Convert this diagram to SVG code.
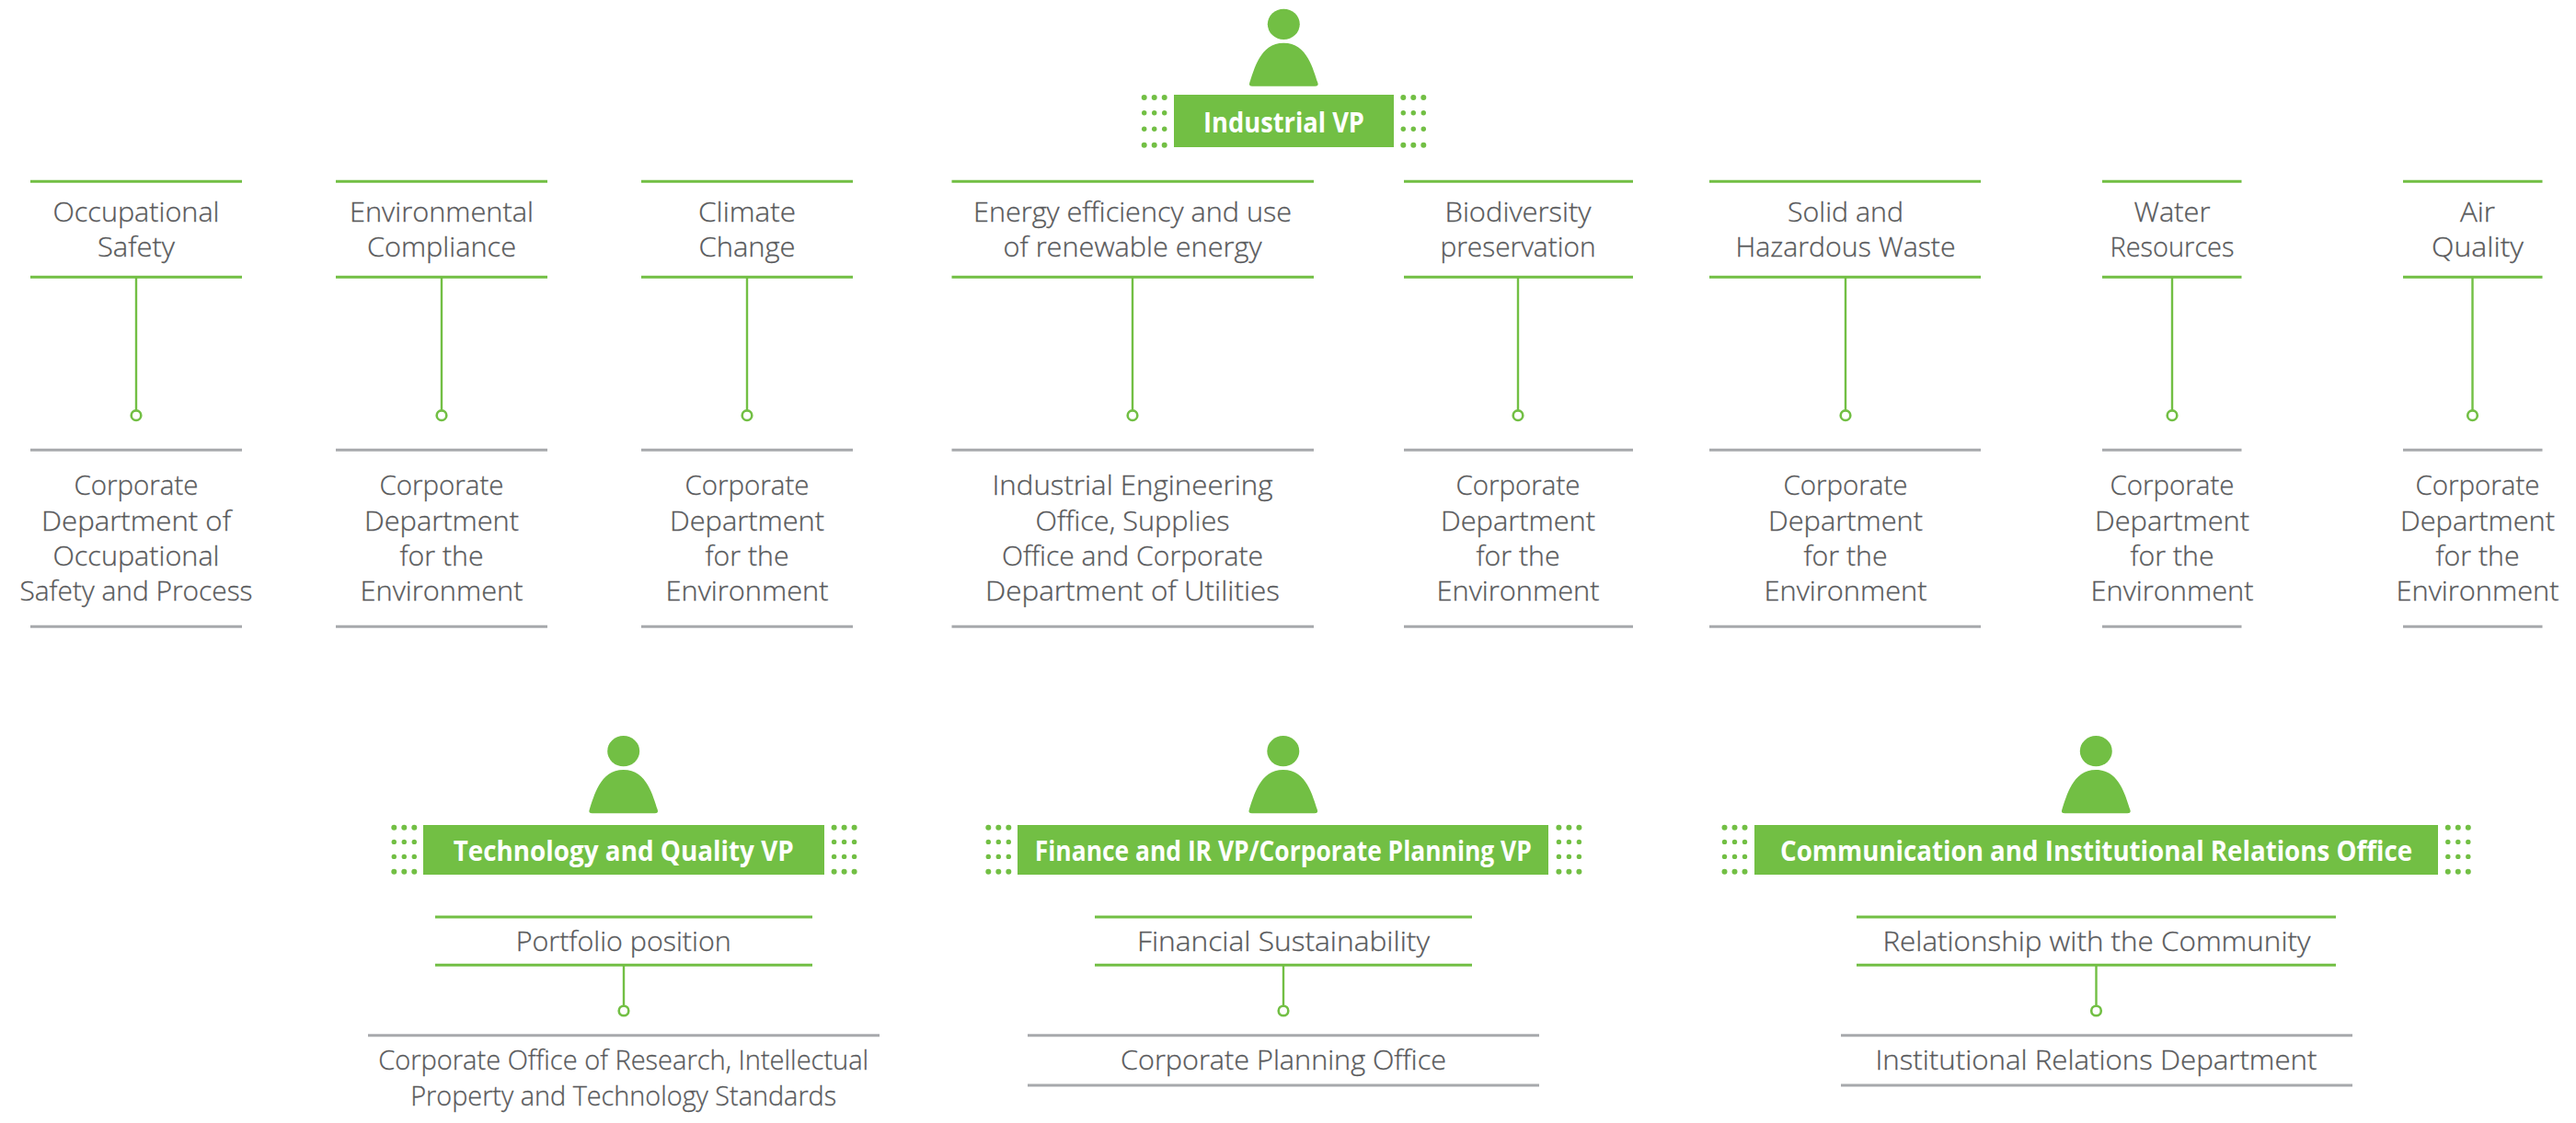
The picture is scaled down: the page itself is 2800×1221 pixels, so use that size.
<svg xmlns="http://www.w3.org/2000/svg" width="2800" height="1221" viewBox="0 0 2800 1221">
<style>
text{font-family:"Open Sans","Liberation Sans",sans-serif;text-anchor:middle}
.t{font-size:30px;font-weight:300;fill:#58595b;stroke:#58595b;stroke-width:.3px}
.h{font-size:30px;font-weight:700;fill:#fff}
.g{stroke:#72bf44;stroke-width:3;fill:none}
.n{stroke:#a7a9ac;stroke-width:3;fill:none}
.c{stroke:#72bf44;stroke-width:2.4;fill:none}
.o{stroke:#72bf44;stroke-width:2.6;fill:#fff}
.f{fill:#72bf44}
</style>
<defs>
<g id="person" class="f"><ellipse cx="0" cy="0" rx="17.5" ry="16.6"/><path d="M-34,67.5Q-38.5,67.5 -37,63.5C-32,50 -26,20.4 0,20.4C26,20.4 32,50 37,63.5Q38.5,67.5 34,67.5Z"/></g>
<g id="dotsA" class="f"><circle cx="0" cy="0" r="3"/><circle cx="11" cy="0" r="3"/><circle cx="22" cy="0" r="3"/><circle cx="0" cy="16.7" r="2.7"/><circle cx="11" cy="16.7" r="2.7"/><circle cx="22" cy="16.7" r="2.7"/><circle cx="0" cy="34.3" r="2.7"/><circle cx="11" cy="34.3" r="2.7"/><circle cx="22" cy="34.3" r="2.7"/><circle cx="0" cy="51.7" r="3"/><circle cx="11" cy="51.7" r="3"/><circle cx="22" cy="51.7" r="3"/></g>
<g id="dotsB" class="f"><circle cx="0" cy="0" r="3"/><circle cx="11" cy="0" r="3"/><circle cx="22" cy="0" r="3"/><circle cx="0" cy="15.7" r="2.7"/><circle cx="11" cy="15.7" r="2.7"/><circle cx="22" cy="15.7" r="2.7"/><circle cx="0" cy="31.7" r="2.7"/><circle cx="11" cy="31.7" r="2.7"/><circle cx="22" cy="31.7" r="2.7"/><circle cx="0" cy="48" r="3"/><circle cx="11" cy="48" r="3"/><circle cx="22" cy="48" r="3"/></g>
</defs>
<rect width="2800" height="1221" fill="#fff"/>
<g id="connectors">
<path class="c" d="M148,301V446M480,301V446M812,301V446M1231,301V446M1650,301V446M2006,301V446M2361,301V446M2687.5,301V446M678,1049V1093M1395,1049V1093M2278.5,1049V1093"/>
<g class="o"><circle cx="148" cy="451.7" r="5.3"/><circle cx="480" cy="451.7" r="5.3"/><circle cx="812" cy="451.7" r="5.3"/><circle cx="1231" cy="451.7" r="5.3"/><circle cx="1650" cy="451.7" r="5.3"/><circle cx="2006" cy="451.7" r="5.3"/><circle cx="2361" cy="451.7" r="5.3"/><circle cx="2687.5" cy="451.7" r="5.3"/><circle cx="678" cy="1099" r="5.3"/><circle cx="1395" cy="1099" r="5.3"/><circle cx="2278.5" cy="1099" r="5.3"/></g>
</g>
<g id="vp-industrial"><use href="#person" x="1395.3" y="26.3"/><use href="#dotsA" x="1243.7" y="106"/><use href="#dotsA" x="1525.3" y="106"/><rect class="f" x="1276" y="103" width="239" height="57"/><text class="h" x="1395.5" y="144" textLength="175" lengthAdjust="spacingAndGlyphs">Industrial VP</text></g>
<g id="topic-occupational"><path class="g" d="M33,197.3H263M33,301.3H263"/><text class="t" x="148" y="240.7" textLength="181" lengthAdjust="spacingAndGlyphs">Occupational</text><text class="t" x="148" y="279" textLength="84" lengthAdjust="spacingAndGlyphs">Safety</text></g>
<g id="owner-occupational"><path class="n" d="M33,489.3H263M33,681.3H263"/><text class="t" x="148" y="538" textLength="135" lengthAdjust="spacingAndGlyphs">Corporate</text><text class="t" x="148" y="576.5" textLength="206" lengthAdjust="spacingAndGlyphs">Department of</text><text class="t" x="148" y="615" textLength="181" lengthAdjust="spacingAndGlyphs">Occupational</text><text class="t" x="148" y="653" textLength="253" lengthAdjust="spacingAndGlyphs">Safety and Process</text></g>
<g id="topic-environmental"><path class="g" d="M365,197.3H595M365,301.3H595"/><text class="t" x="480" y="240.7" textLength="200" lengthAdjust="spacingAndGlyphs">Environmental</text><text class="t" x="480" y="279" textLength="162" lengthAdjust="spacingAndGlyphs">Compliance</text></g>
<g id="owner-environmental"><path class="n" d="M365,489.3H595M365,681.3H595"/><text class="t" x="480" y="538" textLength="135" lengthAdjust="spacingAndGlyphs">Corporate</text><text class="t" x="480" y="576.5" textLength="168" lengthAdjust="spacingAndGlyphs">Department</text><text class="t" x="480" y="615" textLength="91" lengthAdjust="spacingAndGlyphs">for the</text><text class="t" x="480" y="653" textLength="177" lengthAdjust="spacingAndGlyphs">Environment</text></g>
<g id="topic-climate"><path class="g" d="M697,197.3H927M697,301.3H927"/><text class="t" x="812" y="240.7" textLength="106" lengthAdjust="spacingAndGlyphs">Climate</text><text class="t" x="812" y="279" textLength="105" lengthAdjust="spacingAndGlyphs">Change</text></g>
<g id="owner-climate"><path class="n" d="M697,489.3H927M697,681.3H927"/><text class="t" x="812" y="538" textLength="135" lengthAdjust="spacingAndGlyphs">Corporate</text><text class="t" x="812" y="576.5" textLength="168" lengthAdjust="spacingAndGlyphs">Department</text><text class="t" x="812" y="615" textLength="91" lengthAdjust="spacingAndGlyphs">for the</text><text class="t" x="812" y="653" textLength="177" lengthAdjust="spacingAndGlyphs">Environment</text></g>
<g id="topic-energy"><path class="g" d="M1034.5,197.3H1428M1034.5,301.3H1428"/><text class="t" x="1231" y="240.7" textLength="346" lengthAdjust="spacingAndGlyphs">Energy efficiency and use</text><text class="t" x="1231" y="279" textLength="281" lengthAdjust="spacingAndGlyphs">of renewable energy</text></g>
<g id="owner-energy"><path class="n" d="M1034.5,489.3H1428M1034.5,681.3H1428"/><text class="t" x="1231" y="538" textLength="305" lengthAdjust="spacingAndGlyphs">Industrial Engineering</text><text class="t" x="1231" y="576.5" textLength="211" lengthAdjust="spacingAndGlyphs">Office, Supplies</text><text class="t" x="1231" y="615" textLength="284" lengthAdjust="spacingAndGlyphs">Office and Corporate</text><text class="t" x="1231" y="653" textLength="320" lengthAdjust="spacingAndGlyphs">Department of Utilities</text></g>
<g id="topic-biodiversity"><path class="g" d="M1526,197.3H1775M1526,301.3H1775"/><text class="t" x="1650" y="240.7" textLength="159" lengthAdjust="spacingAndGlyphs">Biodiversity</text><text class="t" x="1650" y="279" textLength="169" lengthAdjust="spacingAndGlyphs">preservation</text></g>
<g id="owner-biodiversity"><path class="n" d="M1526,489.3H1775M1526,681.3H1775"/><text class="t" x="1650" y="538" textLength="135" lengthAdjust="spacingAndGlyphs">Corporate</text><text class="t" x="1650" y="576.5" textLength="168" lengthAdjust="spacingAndGlyphs">Department</text><text class="t" x="1650" y="615" textLength="91" lengthAdjust="spacingAndGlyphs">for the</text><text class="t" x="1650" y="653" textLength="177" lengthAdjust="spacingAndGlyphs">Environment</text></g>
<g id="topic-waste"><path class="g" d="M1858,197.3H2153M1858,301.3H2153"/><text class="t" x="2006" y="240.7" textLength="126" lengthAdjust="spacingAndGlyphs">Solid and</text><text class="t" x="2006" y="279" textLength="239" lengthAdjust="spacingAndGlyphs">Hazardous Waste</text></g>
<g id="owner-waste"><path class="n" d="M1858,489.3H2153M1858,681.3H2153"/><text class="t" x="2006" y="538" textLength="135" lengthAdjust="spacingAndGlyphs">Corporate</text><text class="t" x="2006" y="576.5" textLength="168" lengthAdjust="spacingAndGlyphs">Department</text><text class="t" x="2006" y="615" textLength="91" lengthAdjust="spacingAndGlyphs">for the</text><text class="t" x="2006" y="653" textLength="177" lengthAdjust="spacingAndGlyphs">Environment</text></g>
<g id="topic-water"><path class="g" d="M2285,197.3H2436.5M2285,301.3H2436.5"/><text class="t" x="2361" y="240.7" textLength="83" lengthAdjust="spacingAndGlyphs">Water</text><text class="t" x="2361" y="279" textLength="135" lengthAdjust="spacingAndGlyphs">Resources</text></g>
<g id="owner-water"><path class="n" d="M2285,489.3H2436.5M2285,681.3H2436.5"/><text class="t" x="2361" y="538" textLength="135" lengthAdjust="spacingAndGlyphs">Corporate</text><text class="t" x="2361" y="576.5" textLength="168" lengthAdjust="spacingAndGlyphs">Department</text><text class="t" x="2361" y="615" textLength="91" lengthAdjust="spacingAndGlyphs">for the</text><text class="t" x="2361" y="653" textLength="177" lengthAdjust="spacingAndGlyphs">Environment</text></g>
<g id="topic-air"><path class="g" d="M2612,197.3H2763.5M2612,301.3H2763.5"/><text class="t" x="2693" y="240.7" textLength="38" lengthAdjust="spacingAndGlyphs">Air</text><text class="t" x="2693" y="279" textLength="100" lengthAdjust="spacingAndGlyphs">Quality</text></g>
<g id="owner-air"><path class="n" d="M2612,489.3H2763.5M2612,681.3H2763.5"/><text class="t" x="2693" y="538" textLength="135" lengthAdjust="spacingAndGlyphs">Corporate</text><text class="t" x="2693" y="576.5" textLength="168" lengthAdjust="spacingAndGlyphs">Department</text><text class="t" x="2693" y="615" textLength="91" lengthAdjust="spacingAndGlyphs">for the</text><text class="t" x="2693" y="653" textLength="177" lengthAdjust="spacingAndGlyphs">Environment</text></g>
<g id="vp-technology"><use href="#person" x="677.7" y="816.7"/><use href="#dotsB" x="428.3" y="899.7"/><use href="#dotsB" x="906.6" y="899.7"/><rect class="f" x="460" y="897" width="436" height="54"/><text class="h" x="677.7" y="935.7" textLength="370" lengthAdjust="spacingAndGlyphs">Technology and Quality VP</text></g>
<g id="topic-portfolio"><path class="g" d="M473,997H883M473,1049.3H883"/><text class="t" x="677.7" y="1034" textLength="234" lengthAdjust="spacingAndGlyphs">Portfolio position</text></g>
<g id="owner-portfolio"><path class="n" d="M400,1125.7H956"/><text class="t" x="677.7" y="1163.3" textLength="533" lengthAdjust="spacingAndGlyphs">Corporate Office of Research, Intellectual</text><text class="t" x="677.7" y="1202.3" textLength="463" lengthAdjust="spacingAndGlyphs">Property and Technology Standards</text></g>
<g id="vp-finance"><use href="#person" x="1394.8" y="816.7"/><use href="#dotsB" x="1074.3" y="899.7"/><use href="#dotsB" x="1694.4" y="899.7"/><rect class="f" x="1106" y="897" width="577" height="54"/><text class="h" x="1394.8" y="935.7" textLength="540" lengthAdjust="spacingAndGlyphs">Finance and IR VP/Corporate Planning VP</text></g>
<g id="topic-financial"><path class="g" d="M1190,997H1600M1190,1049.3H1600"/><text class="t" x="1395" y="1034" textLength="318" lengthAdjust="spacingAndGlyphs">Financial Sustainability</text></g>
<g id="owner-financial"><path class="n" d="M1117,1125.7H1673M1117,1180H1673"/><text class="t" x="1395" y="1163.3" textLength="354" lengthAdjust="spacingAndGlyphs">Corporate Planning Office</text></g>
<g id="vp-communication"><use href="#person" x="2278.3" y="816.7"/><use href="#dotsB" x="1874.5" y="899.7"/><use href="#dotsB" x="2660.8" y="899.7"/><rect class="f" x="1907" y="897" width="743" height="54"/><text class="h" x="2278.5" y="935.7" textLength="687" lengthAdjust="spacingAndGlyphs">Communication and Institutional Relations Office</text></g>
<g id="topic-community"><path class="g" d="M2018,997H2539M2018,1049.3H2539"/><text class="t" x="2278.9" y="1034" textLength="465" lengthAdjust="spacingAndGlyphs">Relationship with the Community</text></g>
<g id="owner-community"><path class="n" d="M2001,1125.7H2557M2001,1180H2557"/><text class="t" x="2278.5" y="1163.3" textLength="480" lengthAdjust="spacingAndGlyphs">Institutional Relations Department</text></g>
</svg>
